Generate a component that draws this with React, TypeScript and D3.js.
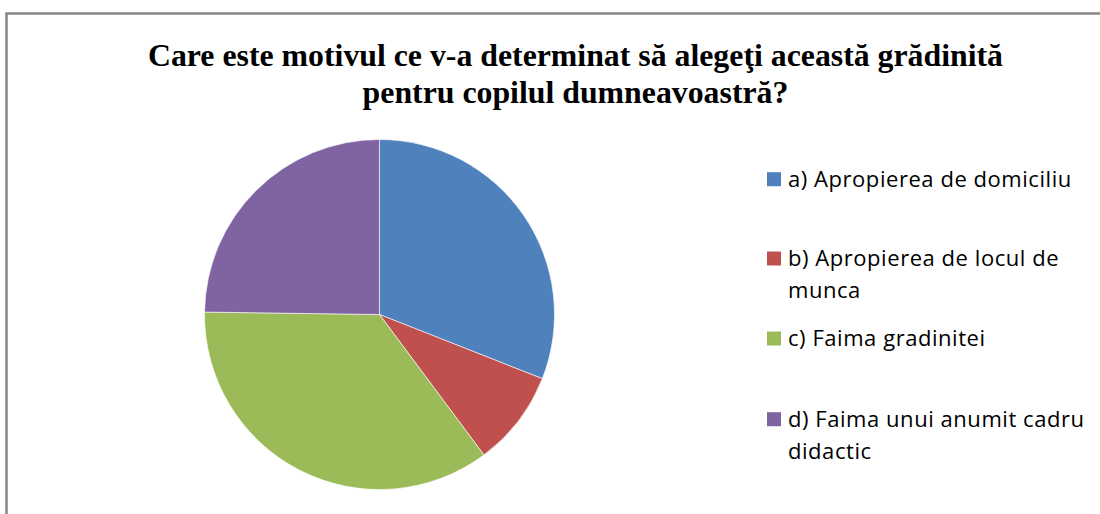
import React from "react";
import * as d3 from "d3";

const categories = [
  "a) Apropierea de domiciliu",
  "b) Apropierea de locul de munca",
  "c) Faima gradinitei",
  "d) Faima unui anumit cadru didactic",
];
const legendLines = [
  ["a) Apropierea de domiciliu"],
  ["b) Apropierea de locul de", "munca"],
  ["c) Faima gradinitei"],
  ["d) Faima unui anumit cadru", "didactic"],
];
const values = [35, 10, 40, 28];
const colors = ["#4f81bd", "#c0504d", "#9bbb59", "#8064a2"];
const titleLines = [
  "Care este motivul ce v-a determinat să alegeţi această grădinită",
  "pentru copilul dumneavoastră?",
];

export default function App() {
  const W = 1100, H = 514;
  const cx = 379.5, cy = 314.5, r = 175;
  const pie = d3.pie<number>().sort(null).value((d) => d)(values);
  const arc = d3.arc<d3.PieArcDatum<number>>().innerRadius(0).outerRadius(r);
  const legendY = [186.7, 266, 346, 426.7];
  const sq = 14;
  return (
    <svg width={W} height={H} style={{ position: "absolute", left: 0, top: 0 }}>
      <rect x={0} y={0} width={W} height={H} fill="#fff" />
      <rect x={6.5} y={13.5} width={W + 20} height={H + 20} fill="none" stroke="#868686" strokeWidth={2.5} />
      {titleLines.map((t, i) => (
        <text key={i} x={575.5} y={66 + i * 36.7} textAnchor="middle"
          fontFamily="'Liberation Serif', 'Times New Roman', serif" fontWeight="bold" fontSize={31.8}>
          {t}
        </text>
      ))}
      <g transform={`translate(${cx},${cy})`}>
        {pie.map((p, i) => (
          <path key={categories[i]} d={arc(p) || ""} fill={colors[i]} stroke="#fff" strokeWidth={0.6} />
        ))}
      </g>
      {legendLines.map((lines, i) => (
        <g key={i}>
          <rect x={767} y={legendY[i] - 14.5} width={sq} height={sq} fill={colors[i]} />
          {lines.map((l, j) => (
            <text key={j} x={788} y={legendY[i] + j * 31.8} fontFamily="'Open Sans', sans-serif" fontSize={22} letterSpacing={0.55} fill="#000">
              {l}
            </text>
          ))}
        </g>
      ))}
    </svg>
  );
}
